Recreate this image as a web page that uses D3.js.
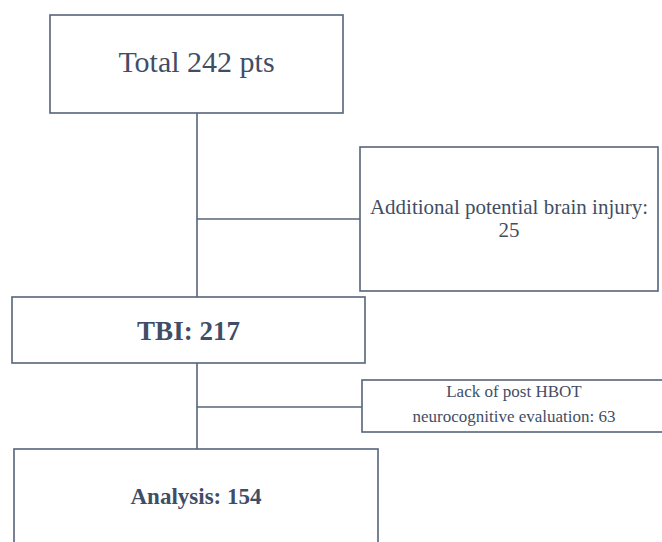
<!DOCTYPE html>
<html><head><meta charset="utf-8">
<script src="https://cdn.jsdelivr.net/npm/d3@7"></script>
<style>body{margin:0;background:#fff;}svg{display:block;}</style>
</head><body>
<div id="chart"></div>
<script>
// Data
const stageLabels = ["Total", "TBI", "Analysis"];
const stageCounts = [242, 217, 154];
const exclusionLabels = [["Additional potential brain injury:"], ["Lack of post HBOT", "neurocognitive evaluation:"]];
const exclusionCounts = [25, 63];

// Layout (separate from data)
const W = 662, H = 542;
const lineColor = "#56647a", textColor = "#3f4e66";
const svg = d3.select("#chart").append("svg").attr("width", W).attr("height", H);
const font = "'Liberation Serif','Times New Roman',serif";

const mainBoxes = [
  {x0: 50, x1: 343, y0: 15, y1: 113, size: 30, weight: "normal", base: 72},
  {x0: 12, x1: 365, y0: 297, y1: 363, size: 27, weight: "bold", base: 340},
  {x0: 14, x1: 378, y0: 449, y1: 560, size: 23, weight: "bold", base: 504}
];
const sideBoxes = [
  {x0: 360, x1: 658, y0: 147, y1: 291, size: 21, connY: 219},
  {x0: 362, x1: 664, y0: 380, y1: 432, size: 17, connY: 407}
];
const spineX = 197;

const g = svg.append("g");
// spine
g.append("line").attr("x1", spineX).attr("x2", spineX).attr("y1", mainBoxes[0].y1).attr("y2", mainBoxes[1].y0)
  .attr("stroke", lineColor).attr("stroke-width", 1.6);
g.append("line").attr("x1", spineX).attr("x2", spineX).attr("y1", mainBoxes[1].y1).attr("y2", mainBoxes[2].y0)
  .attr("stroke", lineColor).attr("stroke-width", 1.6);
// connectors
g.selectAll(".conn").data(sideBoxes).join("line")
  .attr("x1", spineX).attr("x2", d => d.x0).attr("y1", d => d.connY).attr("y2", d => d.connY)
  .attr("stroke", lineColor).attr("stroke-width", 1.6);

// main boxes
g.selectAll(".mb").data(mainBoxes).join("rect")
  .attr("x", d => d.x0).attr("y", d => d.y0).attr("width", d => d.x1 - d.x0).attr("height", d => d.y1 - d.y0)
  .attr("fill", "#fff").attr("stroke", lineColor).attr("stroke-width", 1.6);
g.selectAll(".mt").data(mainBoxes).join("text")
  .attr("x", d => (d.x0 + d.x1) / 2).attr("y", d => d.base)
  .attr("text-anchor", "middle").attr("font-family", font).attr("font-size", d => d.size)
  .attr("font-weight", d => d.weight).attr("fill", textColor)
  .text((d, i) => i === 0 ? `${stageLabels[i]} ${stageCounts[i]} pts` : `${stageLabels[i]}: ${stageCounts[i]}`);

// side boxes
g.selectAll(".sb").data(sideBoxes).join("rect")
  .attr("x", d => d.x0).attr("y", d => d.y0).attr("width", d => d.x1 - d.x0).attr("height", d => d.y1 - d.y0)
  .attr("fill", "#fff").attr("stroke", lineColor).attr("stroke-width", 1.6);

// side text
const t1 = g.append("text").attr("font-family", font).attr("font-size", 21).attr("fill", textColor).attr("text-anchor", "middle");
t1.append("tspan").attr("x", 509).attr("y", 214).text(exclusionLabels[0][0]);
t1.append("tspan").attr("x", 509).attr("y", 237).text(exclusionCounts[0]);
const t2 = g.append("text").attr("font-family", font).attr("font-size", 17).attr("fill", textColor).attr("text-anchor", "middle");
t2.append("tspan").attr("x", 514).attr("y", 397).text(exclusionLabels[1][0]);
t2.append("tspan").attr("x", 514).attr("y", 422).text(`${exclusionLabels[1][1]} ${exclusionCounts[1]}`);
</script>
</body></html>
